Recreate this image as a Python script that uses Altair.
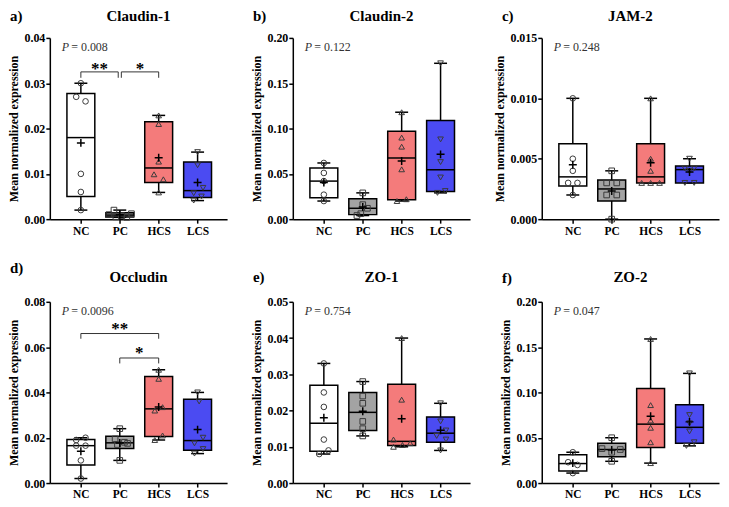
import altair as alt
import numpy as np
import pandas as pd

SERIF = "Liberation Serif"
GROUPS = ["NC", "PC", "HCS", "LCS"]
FILLS = ["#FFFFFF", "#A3A3A3", "#F47B7B", "#4B4BF2"]
SHAPES = ["circle", "square", "triangle-up", "triangle-down"]

LETTERS = ["a)", "b)", "c)", "d)", "e)", "f)"]
GENES = ["Claudin-1", "Claudin-2", "JAM-2", "Occludin", "ZO-1", "ZO-2"]
P_VALUES = ["0.008", "0.122", "0.248", "0.0096", "0.754", "0.047"]
Y_MAX = [0.04, 0.20, 0.015, 0.08, 0.05, 0.20]
Y_TICKS = [
    [0.00, 0.01, 0.02, 0.03, 0.04],
    [0.00, 0.05, 0.10, 0.15, 0.20],
    [0.000, 0.005, 0.010, 0.015],
    [0.00, 0.02, 0.04, 0.06, 0.08],
    [0.00, 0.01, 0.02, 0.03, 0.04, 0.05],
    [0.00, 0.05, 0.10, 0.15, 0.20],
]
Y_FORMAT = [".2f", ".2f", ".3f", ".2f", ".2f", ".2f"]

# individual values per group (NC, PC, HCS, LCS) and horizontal scatter (category units)
claudin1_values = [[0.030, 0.027, 0.026, 0.010, 0.006, 0.002],
                   [0.0020, 0.0012, 0.0010, 0.0008, 0.0005, 0.0004],
                   [0.0229, 0.0210, 0.0127, 0.0099, 0.0088, 0.0059],
                   [0.0148, 0.0119, 0.0069, 0.0057, 0.0050, 0.0041]]
claudin1_offsets = [[0, -0.12, 0.12, 0, 0, 0],
                    [-0.15, 0.30, -0.28, 0.05, -0.10, 0.18],
                    [0, 0, 0, -0.12, 0.12, 0],
                    [0, 0, 0.14, -0.10, 0.10, -0.10]]

claudin2_values = [[0.062, 0.051, 0.042, 0.027, 0.020],
                   [0.029, 0.016, 0.012, 0.006, 0.004],
                   [0.118, 0.090, 0.080, 0.055, 0.022, 0.020],
                   [0.172, 0.088, 0.063, 0.046, 0.031, 0.029]]
claudin2_offsets = [[0, 0, 0, 0, 0],
                    [0, 0, 0.12, -0.05, -0.15],
                    [0, 0, 0, 0, 0.12, -0.12],
                    [0, 0, 0, 0, 0.12, -0.08]]

jam2_values = [[0.010, 0.005, 0.004, 0.003, 0.003, 0.002],
               [0.004, 0.003, 0.003, 0.002, 0.002, 0.000],
               [0.010, 0.005, 0.004, 0.003, 0.003, 0.003],
               [0.005, 0.0042, 0.0042, 0.004, 0.003, 0.003]]
jam2_offsets = [[0, 0, 0, -0.12, 0.12, 0],
                [0, -0.13, 0.13, -0.13, 0.13, 0],
                [0, 0, 0, -0.23, 0, 0.23],
                [0, -0.12, 0.12, 0, -0.12, 0.12]]

occludin_values = [[0.020, 0.019, 0.0165, 0.0165, 0.010, 0.002],
                   [0.024, 0.0195, 0.018, 0.0175, 0.017, 0.010],
                   [0.050, 0.046, 0.0335, 0.032, 0.021, 0.019],
                   [0.040, 0.036, 0.020, 0.0175, 0.015, 0.013]]
occludin_offsets = [[0.12, -0.12, -0.12, 0.12, 0, 0],
                    [0, -0.12, 0.12, 0.2, -0.06, 0],
                    [0, 0, 0.1, -0.1, 0.1, -0.1],
                    [0, 0.04, 0.14, -0.08, 0.14, -0.08]]

zo1_values = [[0.033, 0.025, 0.021, 0.012, 0.009, 0.008],
              [0.028, 0.024, 0.022, 0.017, 0.015, 0.013],
              [0.040, 0.023, 0.012, 0.011, 0.0105, 0.010],
              [0.022, 0.017, 0.0145, 0.013, 0.012, 0.009]]
zo1_offsets = [[0, 0, 0, 0, 0.12, -0.12],
               [0, 0, 0, 0, 0, 0],
               [0, 0, -0.21, 0.22, 0.02, -0.21],
               [0, 0, 0.14, -0.10, 0.14, 0]]

zo2_values = [[0.034, 0.023, 0.020, 0.011],
              [0.050, 0.038, 0.037, 0.034, 0.024],
              [0.159, 0.086, 0.069, 0.061, 0.045, 0.022],
              [0.121, 0.075, 0.066, 0.057, 0.045, 0.041]]
zo2_offsets = [[0, -0.12, 0.12, 0],
               [0, -0.25, 0.22, 0, 0],
               [0, 0, 0, 0, 0, 0],
               [0, 0, 0, 0, 0.12, -0.08]]

# significance brackets: start / end group position, bar height, tick end, label
claudin1_br_x1 = [1.0, 2.04]
claudin1_br_x2 = [1.96, 3.0]
claudin1_br_y = [0.0325, 0.0325]
claudin1_br_yend = [0.0312, 0.0312]
claudin1_br_text = ["**", "*"]
claudin1_br_texty = [0.0338, 0.0338]

occludin_br_x1 = [1.0, 2.0]
occludin_br_x2 = [3.0, 3.0]
occludin_br_y = [0.066, 0.0552]
occludin_br_yend = [0.0637, 0.0528]
occludin_br_text = ["**", "*"]
occludin_br_texty = [0.0692, 0.0585]

W, H = 178, 182
LETTER_Y = [-22, -22, -22, -34, -25, -24]
TITLE_Y = [-22, -22, -22, -25, -25, -25]


def make_panel(k, values, offsets, brackets=None):
    box_rows, pt_rows = [], []
    for g, (vals, offs) in enumerate(zip(values, offsets)):
        arr = np.asarray(vals, dtype=float)
        q1, med, q3 = np.percentile(arr, [25, 50, 75], method="weibull")
        box_rows.append({"group": GROUPS[g], "pos": g + 1, "lo": arr.min(), "q1": q1,
                         "med": med, "q3": q3, "hi": arr.max(), "mean": arr.mean()})
        for v, o in zip(vals, offs):
            pt_rows.append({"group": GROUPS[g], "xp": g + 1 + o, "value": v})
    box_df = pd.DataFrame(box_rows)
    pt_df = pd.DataFrame(pt_rows)

    xs = alt.Scale(domain=[0.33, 4.63], nice=False, zero=False)
    ys = alt.Scale(domain=[0, Y_MAX[k]], nice=False, zero=True)
    label_expr = "[''," + ",".join(f"'{g}'" for g in GROUPS) + "][datum.value]"
    xaxis = alt.Axis(values=[1, 2, 3, 4], labelExpr=label_expr, title=None, grid=False,
                     domainColor="black", domainWidth=1.5, tickColor="black", tickWidth=1.5,
                     tickSize=4, labelFont=SERIF, labelFontWeight="bold", labelFontSize=11.5,
                     labelColor="black", labelPadding=2)
    yaxis = alt.Axis(values=Y_TICKS[k], format=Y_FORMAT[k], title="Mean normalized expression",
                     titleFont=SERIF, titleFontWeight="bold", titleFontSize=12, titleColor="black",
                     titlePadding=3, labelFont=SERIF, labelFontWeight="bold", labelFontSize=12,
                     labelColor="black", labelPadding=1, grid=False, domainColor="black",
                     domainWidth=1.5, tickColor="black", tickWidth=1.5, tickSize=4)

    def X(field):
        return alt.X(field, scale=xs, axis=xaxis)

    def Y(field):
        return alt.Y(field, scale=ys, axis=yaxis)

    base = alt.Chart(box_df)
    whisk = base.mark_rule(color="black", strokeWidth=1.5).encode(
        x=X("pos:Q"), y=Y("lo:Q"), y2="hi:Q")
    cap_path = "M-1,0L1,0"
    cap_lo = base.mark_point(shape=cap_path, size=169, color="black", strokeWidth=1.5,
                             filled=False, opacity=1).encode(x=X("pos:Q"), y=Y("lo:Q"))
    cap_hi = base.mark_point(shape=cap_path, size=169, color="black", strokeWidth=1.5,
                             filled=False, opacity=1).encode(x=X("pos:Q"), y=Y("hi:Q"))
    box = base.mark_bar(size=28, stroke="black", strokeWidth=1.5, opacity=1).encode(
        x=X("pos:Q"), y=Y("q1:Q"), y2="q3:Q",
        color=alt.Color("group:N", scale=alt.Scale(domain=GROUPS, range=FILLS), legend=None))
    median = base.mark_point(shape=cap_path, size=784, color="black", strokeWidth=1.5,
                             filled=False, opacity=1).encode(x=X("pos:Q"), y=Y("med:Q"))
    pts = alt.Chart(pt_df).mark_point(filled=False, color="#3a3a3a", strokeWidth=1,
                                      size=32, opacity=1).encode(
        x=X("xp:Q"), y=Y("value:Q"),
        shape=alt.Shape("group:N", scale=alt.Scale(domain=GROUPS, range=SHAPES), legend=None))
    mean = base.mark_point(shape="M-1,0L1,0M0,-1L0,1", size=64, color="black",
                           strokeWidth=1.5, filled=False, opacity=1).encode(
        x=X("pos:Q"), y=Y("mean:Q"))

    one = pd.DataFrame({"p": ["P"], "rest": ["= " + P_VALUES[k]],
                        "gene": [GENES[k]], "letter": [LETTERS[k]]})
    tbase = alt.Chart(one)
    p_it = tbase.mark_text(font=SERIF, fontSize=12, fontStyle="italic", align="left",
                           baseline="middle", color="#333333").encode(
        text="p:N", x=alt.value(12), y=alt.value(9))
    p_rest = tbase.mark_text(font=SERIF, fontSize=12, align="left", baseline="middle",
                             color="#333333").encode(
        text="rest:N", x=alt.value(21.5), y=alt.value(9))
    title = tbase.mark_text(font=SERIF, fontSize=15, fontWeight="bold", align="center",
                            baseline="middle", color="black").encode(
        text="gene:N", x=alt.value(W / 2), y=alt.value(TITLE_Y[k]))
    letter = tbase.mark_text(font=SERIF, fontSize=15, fontWeight="bold", align="left",
                             baseline="middle", color="black").encode(
        text="letter:N", x=alt.value(-40), y=alt.value(LETTER_Y[k]))

    layers = [whisk, cap_lo, cap_hi, box, median, pts, mean, p_it, p_rest, title, letter]

    if brackets is not None:
        x1, x2, yb, ye, txt, ty = brackets
        bdf = pd.DataFrame({"x1": x1, "x2": x2, "y": yb, "ye": ye, "t": txt, "ty": ty,
                            "xm": [(a + b) / 2 for a, b in zip(x1, x2)]})
        bb = alt.Chart(bdf)
        hbar = bb.mark_rule(color="#333333", strokeWidth=1).encode(
            x=X("x1:Q"), x2="x2:Q", y=Y("y:Q"))
        lt = bb.mark_rule(color="#333333", strokeWidth=1).encode(
            x=X("x1:Q"), y=Y("y:Q"), y2="ye:Q")
        rt = bb.mark_rule(color="#333333", strokeWidth=1).encode(
            x=X("x2:Q"), y=Y("y:Q"), y2="ye:Q")
        stars = bb.mark_text(font=SERIF, fontSize=17, fontWeight="bold", align="center",
                             baseline="middle", dy=3, color="black").encode(
            x=X("xm:Q"), y=Y("ty:Q"), text="t:N")
        layers += [hbar, lt, rt, stars]

    return alt.layer(*layers).properties(width=W, height=H)


panels = [
    make_panel(0, claudin1_values, claudin1_offsets,
               (claudin1_br_x1, claudin1_br_x2, claudin1_br_y, claudin1_br_yend,
                claudin1_br_text, claudin1_br_texty)),
    make_panel(1, claudin2_values, claudin2_offsets),
    make_panel(2, jam2_values, jam2_offsets),
    make_panel(3, occludin_values, occludin_offsets,
               (occludin_br_x1, occludin_br_x2, occludin_br_y, occludin_br_yend,
                occludin_br_text, occludin_br_texty)),
    make_panel(4, zo1_values, zo1_offsets),
    make_panel(5, zo2_values, zo2_offsets),
]

chart = alt.ConcatChart(concat=panels, columns=3, align="each",
                        spacing={"row": 24, "column": 24}).properties(
    padding={"left": 0, "top": 0, "right": 2, "bottom": 2}, background="white"
).configure_view(stroke=None)

chart.save("out.html", embed_options={"renderer": "svg", "actions": False})
